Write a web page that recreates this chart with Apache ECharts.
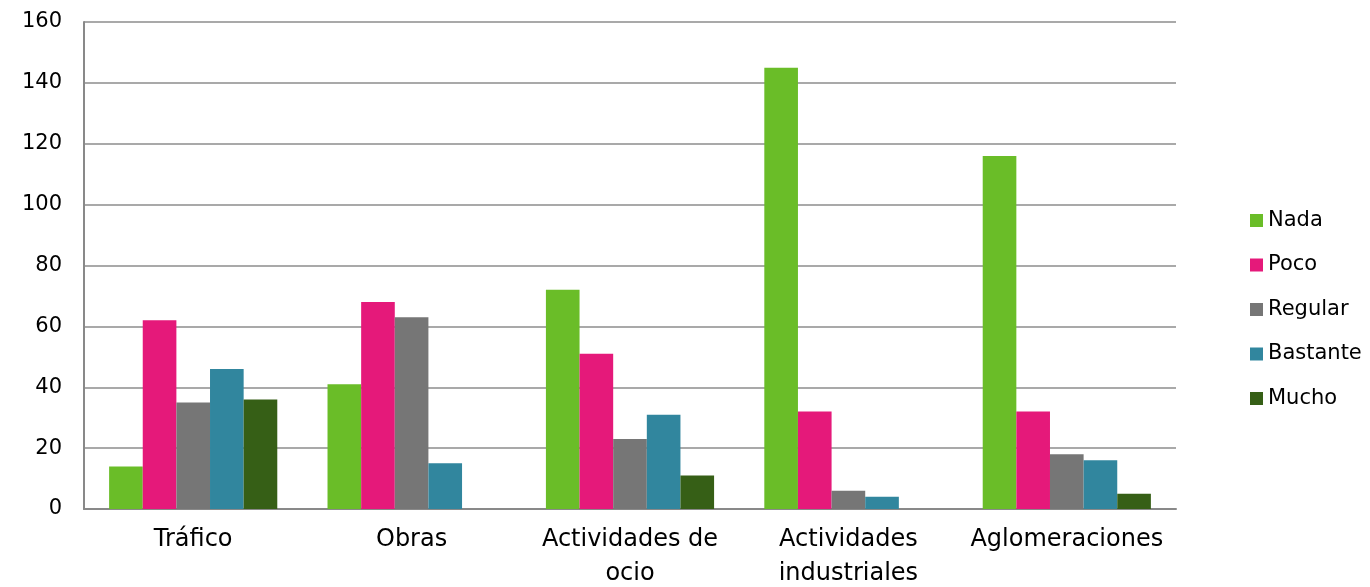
<!DOCTYPE html>
<html>
<head>
<meta charset="utf-8">
<script src="https://cdn.jsdelivr.net/npm/echarts@6/dist/echarts.min.js"></script>
<style>
html,body{margin:0;padding:0;background:#fff;}
#chart{width:1370px;height:587px;}
</style>
</head>
<body>
<div id="chart"></div>
<script>
var categories = ['Tráfico', 'Obras', 'Actividades de\nocio', 'Actividades\nindustriales', 'Aglomeraciones'];
var seriesNames = ['Nada', 'Poco', 'Regular', 'Bastante', 'Mucho'];
var nada = [14, 41, 72, 145, 116];
var poco = [62, 68, 51, 32, 32];
var regular = [35, 63, 23, 6, 18];
var bastante = [46, 15, 31, 4, 16];
var mucho = [36, 0, 11, 0, 5];
var colors = ['#6abd28', '#e5197a', '#767676', '#31869e', '#365f16'];

var values = [nada, poco, regular, bastante, mucho];
var series = [];
for (var i = 0; i < seriesNames.length; i++) {
	series.push({
		name: seriesNames[i],
		type: 'bar',
		data: values[i],
		barGap: '0%',
		barCategoryGap: '23%',
		itemStyle: {color: colors[i]}
	});
}

var myChart = echarts.init(document.getElementById('chart'));
var option = {
	animation: false,
	color: colors,
	textStyle: {fontFamily: 'DejaVu Sans'},
	grid: {left: 84, right: 194, top: 22, bottom: 78, outerBoundsMode: 'none', containLabel: false},
	legend: {
		orient: 'vertical',
		left: 1250,
		top: 210,
		padding: 0,
		itemWidth: 13,
		itemHeight: 13,
		itemGap: 23.5,
		itemTextGap: 6,
		icon: 'rect',
		textStyle: {fontSize: 21, color: '#000', lineHeight: 20},
		data: seriesNames
	},
	xAxis: {
		type: 'category',
		data: categories,
		axisTick: {show: false},
		axisLine: {lineStyle: {color: '#898989', width: 2}},
		axisLabel: {fontSize: 24, color: '#000', margin: 14, lineHeight: 34, interval: 0}
	},
	yAxis: {
		type: 'value',
		min: 0,
		max: 160,
		interval: 20,
		axisLine: {show: true, lineStyle: {color: '#898989', width: 2}},
		axisTick: {show: false},
		splitLine: {lineStyle: {color: '#8c8c8c', width: 1.5}},
		axisLabel: {fontSize: 21, color: '#000', margin: 22}
	},
	series: series
};
myChart.setOption(option);
</script>
</body>
</html>
